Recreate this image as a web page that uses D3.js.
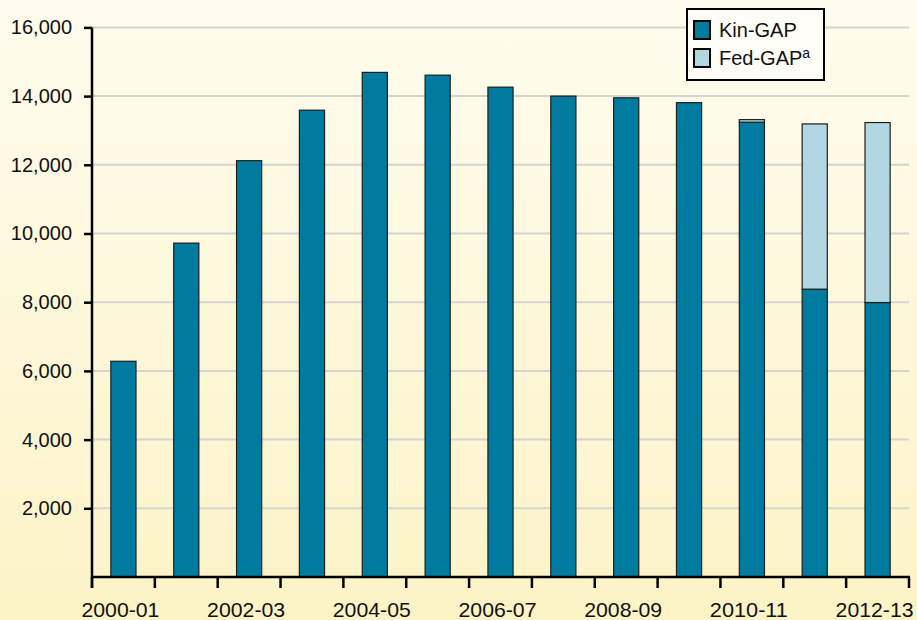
<!DOCTYPE html>
<html>
<head>
<meta charset="utf-8">
<script src="https://cdn.jsdelivr.net/npm/d3@7"></script>
<style>
  html, body { margin: 0; padding: 0; background: #fdf8df; }
  svg { display: block; font-family: "Liberation Sans", Arial, sans-serif; }
</style>
</head>
<body>
<div id="chart"></div>
<script>
// Fiscal years on the x axis
const years = ["2000-01", "2001-02", "2002-03", "2003-04", "2004-05", "2005-06", "2006-07",
               "2007-08", "2008-09", "2009-10", "2010-11", "2011-12", "2012-13"];
// Caseload values
const kinGap = [6280, 9720, 12120, 13590, 14690, 14610, 14260, 14000, 13950, 13810, 13240, 8380, 7990];
const fedGap = [0, 0, 0, 0, 0, 0, 0, 0, 0, 0, 75, 4810, 5240];
const yTicks = [2000, 4000, 6000, 8000, 10000, 12000, 14000, 16000];
const xLabels = ["2000-01", "2002-03", "2004-05", "2006-07", "2008-09", "2010-11", "2012-13"];
const seriesNames = ["Kin-GAP", "Fed-GAP"];

const W = 917, H = 620;
const margin = { top: 27.4, right: 8, bottom: 43, left: 92 };
const colors = { "Kin-GAP": "#007ba0", "Fed-GAP": "#b3d7e2" };

const svg = d3.select("#chart").append("svg")
  .attr("width", W).attr("height", H);

// background gradient
const grad = svg.append("defs").append("linearGradient")
  .attr("id", "bg").attr("x1", 0).attr("y1", 0).attr("x2", 0).attr("y2", 1);
grad.append("stop").attr("offset", "0%").attr("stop-color", "#fffcee");
grad.append("stop").attr("offset", "100%").attr("stop-color", "#fcf3c6");
svg.append("rect").attr("width", W).attr("height", H).attr("fill", "url(#bg)");

const x = d3.scaleBand()
  .domain(years)
  .range([margin.left, W - margin.right])
  .paddingInner(0.6)
  .paddingOuter(0.3);

// boundaries between categories for the x ticks
const xEdge = d3.scaleLinear()
  .domain([0, years.length])
  .range([margin.left, W - margin.right]);

const y = d3.scaleLinear()
  .domain([0, 16000])
  .range([H - margin.bottom, margin.top]);

// gridlines
svg.append("g").selectAll("line")
  .data(yTicks)
  .join("line")
  .attr("x1", margin.left).attr("x2", W - margin.right)
  .attr("y1", d => y(d)).attr("y2", d => y(d))
  .attr("stroke", "#d4d4d2").attr("stroke-width", 2);

// stacked bars
const rows = years.map((yr, i) => ({ year: yr, "Kin-GAP": kinGap[i], "Fed-GAP": fedGap[i] }));
const layers = d3.stack().keys(seriesNames)(rows);

svg.append("g").selectAll("g")
  .data(layers)
  .join("g")
  .attr("fill", d => colors[d.key])
  .selectAll("rect")
  .data(d => d.filter(p => p[1] - p[0] > 0))
  .join("rect")
  .attr("x", d => x(d.data.year))
  .attr("width", x.bandwidth())
  .attr("y", d => y(d[1]))
  .attr("height", d => y(d[0]) - y(d[1]))
  .attr("stroke", "#1b1f1f")
  .attr("stroke-width", 1.2);

// y axis
const yAxis = svg.append("g")
  .attr("transform", `translate(${margin.left},0)`)
  .call(d3.axisLeft(y).tickValues(yTicks).tickFormat(d3.format(",")).tickSize(8).tickPadding(12).tickSizeOuter(0));
yAxis.select(".domain").attr("stroke", "#000").attr("stroke-width", 2.5)
  .attr("d", `M0,${y(16000)}V${y(0) + 11}`);
yAxis.selectAll(".tick line").attr("stroke", "#000").attr("stroke-width", 2.5);
yAxis.selectAll(".tick text").attr("fill", "#111").style("font-size", "20px")
  .style("font-family", "'Liberation Sans', Arial, sans-serif");

// x axis line and ticks
const xAxis = svg.append("g");
xAxis.append("line")
  .attr("x1", xEdge(0) - 1).attr("x2", xEdge(years.length) + 1)
  .attr("y1", y(0)).attr("y2", y(0))
  .attr("stroke", "#000").attr("stroke-width", 2.5);
xAxis.selectAll(".xt")
  .data(d3.range(years.length + 1))
  .join("line")
  .attr("class", "xt")
  .attr("x1", d => xEdge(d)).attr("x2", d => xEdge(d))
  .attr("y1", y(0)).attr("y2", y(0) + 11)
  .attr("stroke", "#000").attr("stroke-width", 2.5);
xAxis.selectAll(".xl")
  .data(xLabels)
  .join("text")
  .attr("class", "xl")
  .attr("x", d => x(d) + x.bandwidth() / 2 - 3)
  .attr("y", H - 3)
  .attr("text-anchor", "middle")
  .attr("fill", "#111")
  .attr("textLength", 78)
  .attr("lengthAdjust", "spacingAndGlyphs")
  .style("font-size", "21px")
  .text(d => d);

// legend
const legend = svg.append("g");
legend.append("rect")
  .attr("x", 687).attr("y", 9).attr("width", 137).attr("height", 71)
  .attr("fill", "#fffef8").attr("stroke", "#000").attr("stroke-width", 2);
const items = legend.selectAll(".li")
  .data(seriesNames)
  .join("g")
  .attr("class", "li")
  .attr("transform", (d, i) => `translate(694,${21 + i * 28})`);
items.append("rect")
  .attr("width", 16).attr("height", 18)
  .attr("fill", d => colors[d])
  .attr("stroke", "#000").attr("stroke-width", 2);
const lt = items.append("text")
  .attr("x", 25).attr("y", 16)
  .attr("fill", "#111")
  .style("font-size", "20px");
lt.append("tspan").text(d => d);
lt.filter(d => d === "Fed-GAP").append("tspan")
  .attr("dy", -7).style("font-size", "14px").text("a");
</script>
</body>
</html>
